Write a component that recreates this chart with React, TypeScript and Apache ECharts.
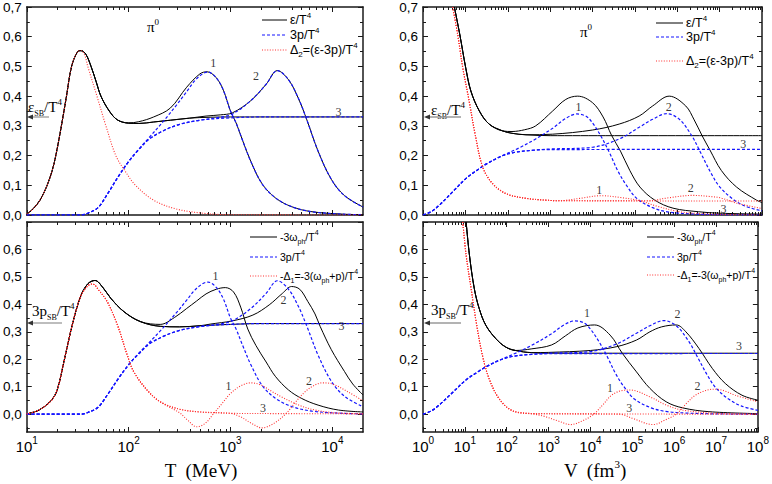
import React, { useEffect, useRef } from "react";
import * as echarts from "echarts";

type P = [number, number];

// ---------- tick labels ----------
const tMajorTicks = [10, 100, 1000, 10000];
const vMajorTicks = [1, 10, 100, 1000, 1e4, 1e5, 1e6, 1e7, 1e8];
const yTickLabelsTop = [0, 0.1, 0.2, 0.3, 0.4, 0.5, 0.6, 0.7];
const yTickLabelsBottom = [0, 0.1, 0.2, 0.3, 0.4, 0.5, 0.6];
const yMinorTop = [0.05, 0.15, 0.25, 0.35, 0.45, 0.55, 0.65];
const yMinorBottom = [-0.05, 0.05, 0.15, 0.25, 0.35, 0.45, 0.55, 0.65];

// ---------- 3p/T^4 vs T (shared by both left panels) ----------
const blueT3: P[] = [[10,0],[34.2,0],[39.81,0.006],[50.12,0.025],[63.1,0.075],[79.43,0.13],[100,0.18],[125.9,0.22],[158.5,0.255],[223.9,0.285],[316.2,0.305],[501.2,0.319],[1000,0.327],[1995,0.33],[20000,0.33]];
const blueT1: P[] = [[10,0],[34.2,0],[39.81,0.006],[50.12,0.025],[63.1,0.075],[79.43,0.13],[100,0.18],[125.9,0.222],[158.5,0.26],[218.8,0.315],[295.1,0.37],[371.5,0.415],[446.7,0.452],[537,0.476],[602.6,0.481],[724.4,0.462],[851.1,0.42],[1000,0.35],[1135,0.31],[1318,0.25],[1585,0.18],[2042,0.105],[2754,0.058],[3981,0.028],[6310,0.011],[12590,0.003],[20000,0.001]];
const blueT2: P[] = [[10,0],[34.2,0],[39.81,0.006],[50.12,0.025],[63.1,0.075],[79.43,0.13],[100,0.18],[125.9,0.22],[158.5,0.255],[223.9,0.285],[316.2,0.305],[501.2,0.319],[794.3,0.329],[1047,0.34],[1585,0.385],[2239,0.44],[2884,0.486],[3715,0.455],[4677,0.39],[5623,0.32],[7244,0.215],[9772,0.12],[13180,0.065],[20000,0.027]];

// ---------- top-left: eps/T^4 and Delta2 vs T ----------
const tlBlackHead: P[] = [[10,0.003],[11.48,0.02],[13.49,0.05],[15.85,0.1],[17.78,0.15],[19.28,0.2],[21.88,0.3],[24.55,0.4],[27.54,0.5],[31.62,0.55],[34.2,0.553],[38.02,0.541],[42.76,0.5],[47.86,0.45],[53.46,0.4],[64.57,0.35],[77.62,0.32]];
const tlBlack3Tail: P[] = [[100,0.309],[125.9,0.308],[176.2,0.313],[257,0.319],[398.1,0.326],[631,0.329],[1000,0.33],[20000,0.33]];
const tlBlack1Tail: P[] = [[100,0.31],[125.9,0.314],[176.2,0.33],[257,0.36],[371.5,0.43],[501.2,0.475],[588.8,0.482],[724.4,0.462],[851.1,0.42],[1000,0.35],[1135,0.31],[1318,0.25],[1585,0.18],[2042,0.105],[2754,0.058],[3981,0.028],[6310,0.011],[12590,0.003],[20000,0.001]];
const tlBlack2Tail: P[] = [[100,0.309],[125.9,0.308],[176.2,0.313],[257,0.319],[398.1,0.326],[575.4,0.333],[794.3,0.337],[1047,0.344],[1585,0.385],[2239,0.44],[2884,0.486],[3715,0.455],[4677,0.39],[5623,0.32],[7244,0.215],[9772,0.12],[13180,0.065],[20000,0.027]];
const tlRed: P[] = [[10,0.003],[11.48,0.02],[13.49,0.05],[15.85,0.1],[17.78,0.15],[19.28,0.2],[21.88,0.3],[24.55,0.4],[27.54,0.5],[31.62,0.55],[34.2,0.553],[37.15,0.537],[39.72,0.5],[48.87,0.4],[59.84,0.3],[74.82,0.2],[91.41,0.15],[117,0.1],[175.8,0.05],[295.1,0.02],[575.4,0.005],[1000,0.001],[20000,0]];

// ---------- bottom-left: -3w/T^4 and -Delta1 vs T ----------
const blBlackHead: P[] = [[10,0.001],[13.18,0.015],[17.38,0.05],[19.95,0.09],[23.44,0.2],[28.18,0.33],[33.88,0.43],[39.81,0.475],[46.77,0.487],[56.23,0.46],[66.83,0.422],[90.16,0.373],[130.9,0.337]];
const blBlack3Tail: P[] = [[204.2,0.32],[316.2,0.318],[501.2,0.322],[1000,0.327],[1995,0.33],[20000,0.33]];
const blBlack1Tail: P[] = [[204.2,0.327],[281.8,0.352],[371.5,0.385],[464.5,0.412],[575.4,0.438],[724.4,0.455],[891.3,0.461],[1072,0.445],[1259,0.39],[1479,0.31],[1778,0.25],[2239,0.19],[2754,0.138],[3715,0.088],[5012,0.057],[7244,0.033],[11480,0.015],[20000,0.008]];
const blBlack2Tail: P[] = [[204.2,0.32],[316.2,0.318],[501.2,0.322],[631,0.328],[1047,0.34],[1660,0.361],[2399,0.398],[3236,0.44],[3981,0.465],[4786,0.455],[5754,0.41],[6761,0.365],[7586,0.32],[9772,0.235],[13180,0.155],[15850,0.11],[20000,0.07]];
const blRedHead: P[] = [[10,0.001],[13.18,0.015],[17.38,0.05],[19.95,0.09],[23.44,0.2],[28.18,0.33],[33.88,0.43],[39.81,0.468],[44.36,0.474],[51.29,0.45],[61.66,0.41],[77.62,0.325],[97.05,0.215],[112.2,0.155],[151.4,0.088],[204.2,0.045]];
const blRed3Tail: P[] = [[316.2,0.018],[501.2,0.008],[1000,0.003],[3162,0.002],[20000,0.001]];
const blRed1Tail: P[] = [[263,0.022],[316.2,0.005],[380.2,-0.022],[464.5,-0.046],[562.3,-0.034],[676.1,0],[831.8,0.04],[1000,0.075],[1259,0.103],[1585,0.114],[1995,0.106],[2570,0.082],[3162,0.063],[4677,0.033],[6761,0.015],[10000,0.006],[20000,0.001]];
const blRed2Tail: P[] = [[316.2,0.018],[501.2,0.008],[1000,0.003],[1259,-0.01],[1585,-0.032],[2042,-0.05],[2630,-0.035],[3467,0],[4266,0.04],[5248,0.077],[6310,0.1],[7943,0.114],[10000,0.11],[14130,0.082],[20000,0.048]];

// ---------- 3p/T^4 vs V (shared by both right panels) ----------
const blueV3: P[] = [[1,0],[1.585,0.012],[2.512,0.035],[5.012,0.078],[10.72,0.125],[21.88,0.157],[31.62,0.172],[66.07,0.196],[134.9,0.21],[398.1,0.218],[1000,0.22],[1e8,0.221]];
const blueV1: P[] = [[1,0],[1.585,0.012],[2.512,0.035],[5.012,0.078],[10.72,0.125],[21.88,0.157],[31.62,0.172],[66.07,0.196],[186.2,0.226],[457.1,0.256],[1148,0.292],[2344,0.325],[4266,0.34],[7079,0.332],[10000,0.31],[15850,0.265],[25120,0.21],[39810,0.148],[63100,0.1],[112200,0.055],[281800,0.023],[631000,0.01],[1995000,0.004],[1e7,0.001],[1e8,0]];
const blueV2: P[] = [[1,0],[1.585,0.012],[2.512,0.035],[5.012,0.078],[10.72,0.125],[21.88,0.157],[31.62,0.172],[66.07,0.196],[134.9,0.21],[398.1,0.218],[1000,0.222],[10000,0.228],[42660,0.256],[125900,0.295],[263000,0.322],[562300,0.341],[1122000,0.322],[2239000,0.265],[3548000,0.21],[6310000,0.14],[1e7,0.095],[1.995e7,0.055],[3.981e7,0.03],[1e8,0.014]];

// ---------- top-right: eps/T^4 and Delta2 vs V ----------
const trBlackHead: P[] = [[5.495,0.7],[7.413,0.606],[10.23,0.494],[13.49,0.417],[21.38,0.35],[36.31,0.306],[75.86,0.283]];
const trBlack3Tail: P[] = [[125.9,0.275],[269.2,0.27],[1000,0.267],[1e8,0.267]];
const trBlack1Tail: P[] = [[125.9,0.281],[251.2,0.287],[457.1,0.3],[1148,0.35],[2344,0.389],[4467,0.4],[10000,0.378],[17780,0.33],[28180,0.268],[45710,0.215],[75860,0.15],[131800,0.094],[295100,0.05],[794300,0.023],[3162000,0.011],[1e7,0.006],[1e8,0.003]];
const trBlack2Tail: P[] = [[125.9,0.275],[269.2,0.27],[1148,0.272],[10000,0.286],[42660,0.306],[125900,0.333],[263000,0.367],[645700,0.4],[1585000,0.367],[2512000,0.32],[3890000,0.266],[5888000,0.219],[1.096e7,0.15],[2.512e7,0.094],[7.413e7,0.05],[1e8,0.042]];
const trRedHead: P[] = [[5.012,0.7],[6.607,0.606],[8.71,0.494],[12.3,0.383],[16.98,0.272],[25.7,0.161],[43.65,0.106],[91.2,0.072],[269.2,0.056],[794.3,0.05],[1585,0.048]];
const trRed3Tail: P[] = [[1e8,0.047]];
const trRed1Tail: P[] = [[5012,0.056],[15850,0.065],[50120,0.058],[131800,0.048],[323600,0.03],[1148000,0.011],[3162000,0.005],[1e7,0.002],[1e8,0]];
const trRed2Tail: P[] = [[199500,0.048],[631000,0.058],[2239000,0.066],[6310000,0.062],[1.096e7,0.057],[2.512e7,0.04],[1e8,0.022]];

// ---------- bottom-right: -3w/T^4 and -Delta1 vs V ----------
const brBlackHead: P[] = [[10.72,0.7],[12.88,0.579],[16.83,0.457],[22.08,0.384],[31.62,0.324],[54.95,0.275],[93.33,0.245],[162.2,0.232]];
const brBlack3Tail: P[] = [[398.1,0.224],[1000,0.222],[1e8,0.222]];
const brBlack1Tail: P[] = [[398.1,0.238],[1175,0.252],[2512,0.285],[5012,0.314],[12590,0.325],[29510,0.288],[57540,0.222],[125900,0.154],[263000,0.094],[645700,0.045],[1585000,0.023],[6761000,0.009],[1e8,0.002]];
const brBlack2Tail: P[] = [[398.1,0.224],[1000,0.225],[10000,0.232],[42660,0.246],[125900,0.27],[263000,0.3],[501200,0.318],[1122000,0.325],[1905000,0.3],[3890000,0.24],[8128000,0.167],[1.66e7,0.112],[4.169e7,0.069],[1e8,0.051]];
const brRedHead: P[] = [[8.913,0.7],[10.72,0.579],[14.13,0.457],[18.62,0.336],[26.3,0.214],[38.02,0.129],[66.07,0.056],[134.9,0.013],[398.1,0.002]];
const brRed3Tail: P[] = [[1e8,0]];
const brRed1Tail: P[] = [[794.3,-0.008],[1698,-0.025],[3388,-0.038],[6310,-0.025],[12020,0],[19950,0.035],[31620,0.068],[50120,0.084],[89130,0.088],[263000,0.063],[645700,0.033],[1585000,0.015],[9772000,0.003],[1e8,0]];
const brRed2Tail: P[] = [[50120,0],[100000,-0.015],[316200,-0.038],[631000,-0.02],[1122000,0],[1995000,0.04],[3162000,0.068],[5623000,0.086],[9772000,0.091],[1.585e7,0.085],[2.884e7,0.069],[1e8,0.045]];

// ---------- curve number labels [x, y, text] ----------
const tlCurveLabels: [number, number, string][] = [[676,0.511,"1"],[1778,0.467,"2"],[11480,0.347,"3"]];
const trCurveLabels: [number, number, string][] = [[4677,0.363,"1"],[631000,0.363,"2"],[3.63e7,0.239,"3"],[14450,0.083,"1"],[2.089e6,0.09,"2"],[1.23e7,0.019,"3"]];
const blCurveLabels: [number, number, string][] = [[714.5,0.505,"1"],[3311,0.416,"2"],[12300,0.321,"3"],[955,0.103,"1"],[5888,0.12,"2"],[2089,0.023,"3"]];
const brCurveLabels: [number, number, string][] = [[8318,0.367,"1"],[1.202e6,0.364,"2"],[3.548e7,0.249,"3"],[29510,0.094,"1"],[3.63e6,0.103,"2"],[85110,0.023,"3"]];

const SANS = "'Liberation Sans', Arial, Helvetica, sans-serif";
const SERIF = "'Liberation Serif', 'Times New Roman', Times, serif";
const AXIS = "#1a1a1a";

function minorLog(lo: number, hi: number, max: number): number[] {
  const out: number[] = [];
  for (let b = lo; b < hi; b *= 10) {
    for (let k = 2; k <= 9; k++) if (b * k < max) out.push(b * k);
  }
  return out;
}

const BLACK = { color: "#000000", width: 1, type: "solid" };
const BLUE = { color: "#1414ff", width: 1.2, type: [3, 2] };
const RED = { color: "#ff3030", width: 1.1, type: [1, 1.6] };

function lineSeries(grid: number, data: P[], ls: any) {
  return {
    type: "line",
    xAxisIndex: grid * 4,
    yAxisIndex: grid * 4,
    data,
    symbol: "none",
    showSymbol: false,
    smooth: 0.35,
    lineStyle: ls,
    itemStyle: { color: ls.color },
    silent: true,
    clip: true,
  };
}

function labelSeries(grid: number, items: [number, number, string][]) {
  return {
    type: "scatter",
    xAxisIndex: grid * 4,
    yAxisIndex: grid * 4,
    data: items.map((d) => ({ name: d[2], value: [d[0], d[1]] })),
    symbol: "circle",
    symbolSize: 2,
    itemStyle: { color: "rgba(0,0,0,0)" },
    label: { show: true, position: "inside", formatter: "{b}", color: "#000", fontFamily: SERIF, fontSize: 12 },
    silent: true,
    z: 5,
  };
}

function buildOption() {
  const tMinor = minorLog(10, 20000, 20000);
  const vMinor = minorLog(1, 1e8, 1e8);
  const panels = [
    { left: 25, top: 5, width: 338, xMin: 10, xMax: 20000, major: tMajorTicks, minor: tMinor, yMin: 0, yLabels: yTickLabelsTop, yMinor: yMinorTop, xLabels: false },
    { left: 423, top: 5, width: 339, xMin: 1, xMax: 1e8, major: vMajorTicks, minor: vMinor, yMin: 0, yLabels: yTickLabelsTop, yMinor: yMinorTop, xLabels: false },
    { left: 25, top: 222, width: 338, xMin: 10, xMax: 20000, major: tMajorTicks, minor: tMinor, yMin: -0.065, yLabels: yTickLabelsBottom, yMinor: yMinorBottom, xLabels: true },
    { left: 423, top: 222, width: 339, xMin: 1, xMax: 1e8, major: vMajorTicks, minor: vMinor, yMin: -0.065, yLabels: yTickLabelsBottom, yMinor: yMinorBottom, xLabels: true },
  ];
  const grid: any[] = [];
  const xAxis: any[] = [];
  const yAxis: any[] = [];
  const lineStyle = { color: AXIS, width: 1.5 };
  const tickStyle = { color: AXIS, width: 1 };
  panels.forEach((p, i) => {
    grid.push({ left: p.left, top: p.top, width: p.width, height: 210, containLabel: false });
    const bx = { gridIndex: i, type: "log", logBase: 10, min: p.xMin, max: p.xMax, splitLine: { show: false }, minorTick: { show: false } };
    const hiddenLabel = { show: false };
    xAxis.push({
      ...bx, position: "bottom",
      axisLine: { show: true, onZero: false, lineStyle },
      axisTick: { show: true, inside: true, length: 5, customValues: p.major, lineStyle: tickStyle },
      axisLabel: p.xLabels
        ? {
            show: true, customValues: p.major, margin: 3, color: "#000", fontFamily: SANS, fontSize: 15, lineHeight: 22,
            formatter: (v: number) => `10{s|${Math.round(Math.log10(v))}}`,
            rich: { s: { fontSize: 10, fontFamily: SANS, verticalAlign: "top", color: "#000" } },
          }
        : hiddenLabel,
    });
    xAxis.push({ ...bx, position: "bottom", axisLine: { show: false, onZero: false }, axisTick: { show: true, inside: true, length: 3, customValues: p.minor, lineStyle: tickStyle }, axisLabel: hiddenLabel });
    xAxis.push({ ...bx, position: "top", axisLine: { show: true, onZero: false, lineStyle }, axisTick: { show: true, inside: true, length: 5, customValues: p.major, lineStyle: tickStyle }, axisLabel: hiddenLabel });
    xAxis.push({ ...bx, position: "top", axisLine: { show: false, onZero: false }, axisTick: { show: true, inside: true, length: 3, customValues: p.minor, lineStyle: tickStyle }, axisLabel: hiddenLabel });

    const by = { gridIndex: i, type: "value", min: p.yMin, max: 0.7, splitLine: { show: false } };
    yAxis.push({
      ...by, position: "left",
      axisLine: { show: true, onZero: false, lineStyle },
      axisTick: { show: true, inside: true, length: 5, customValues: yTickLabelsTop, lineStyle: tickStyle },
      axisLabel: { show: true, customValues: p.yLabels, margin: 5, color: "#000", fontFamily: SANS, fontSize: 13.5, formatter: (v: number) => v.toFixed(1).replace(".", ",") },
    });
    yAxis.push({ ...by, position: "left", axisLine: { show: false, onZero: false }, axisTick: { show: true, inside: true, length: 3, customValues: p.yMinor, lineStyle: tickStyle }, axisLabel: hiddenLabel });
    yAxis.push({ ...by, position: "right", axisLine: { show: true, onZero: false, lineStyle }, axisTick: { show: true, inside: true, length: 5, customValues: yTickLabelsTop, lineStyle: tickStyle }, axisLabel: hiddenLabel });
    yAxis.push({ ...by, position: "right", axisLine: { show: false, onZero: false }, axisTick: { show: true, inside: true, length: 3, customValues: p.yMinor, lineStyle: tickStyle }, axisLabel: hiddenLabel });
  });

  const series: any[] = [
    // top-left
    lineSeries(0, [...tlBlackHead, ...tlBlack1Tail], BLACK),
    lineSeries(0, [...tlBlackHead, ...tlBlack2Tail], BLACK),
    lineSeries(0, [...tlBlackHead, ...tlBlack3Tail], BLACK),
    lineSeries(0, blueT1, BLUE),
    lineSeries(0, blueT2, BLUE),
    lineSeries(0, blueT3, BLUE),
    lineSeries(0, tlRed, RED),
    labelSeries(0, tlCurveLabels),
    // top-right
    lineSeries(1, [...trBlackHead, ...trBlack1Tail], BLACK),
    lineSeries(1, [...trBlackHead, ...trBlack2Tail], BLACK),
    lineSeries(1, [...trBlackHead, ...trBlack3Tail], BLACK),
    lineSeries(1, blueV1, BLUE),
    lineSeries(1, blueV2, BLUE),
    lineSeries(1, blueV3, BLUE),
    lineSeries(1, [...trRedHead, ...trRed1Tail], RED),
    lineSeries(1, [...trRedHead, ...trRed2Tail], RED),
    lineSeries(1, [...trRedHead, ...trRed3Tail], RED),
    labelSeries(1, trCurveLabels),
    // bottom-left
    lineSeries(2, [...blBlackHead, ...blBlack1Tail], BLACK),
    lineSeries(2, [...blBlackHead, ...blBlack2Tail], BLACK),
    lineSeries(2, [...blBlackHead, ...blBlack3Tail], BLACK),
    lineSeries(2, blueT1, BLUE),
    lineSeries(2, blueT2, BLUE),
    lineSeries(2, blueT3, BLUE),
    lineSeries(2, [...blRedHead, ...blRed1Tail], RED),
    lineSeries(2, [...blRedHead, ...blRed2Tail], RED),
    lineSeries(2, [...blRedHead, ...blRed3Tail], RED),
    labelSeries(2, blCurveLabels),
    // bottom-right
    lineSeries(3, [...brBlackHead, ...brBlack1Tail], BLACK),
    lineSeries(3, [...brBlackHead, ...brBlack2Tail], BLACK),
    lineSeries(3, [...brBlackHead, ...brBlack3Tail], BLACK),
    lineSeries(3, blueV1, BLUE),
    lineSeries(3, blueV2, BLUE),
    lineSeries(3, blueV3, BLUE),
    lineSeries(3, [...brRedHead, ...brRed1Tail], RED),
    lineSeries(3, [...brRedHead, ...brRed2Tail], RED),
    lineSeries(3, [...brRedHead, ...brRed3Tail], RED),
    labelSeries(3, brCurveLabels),
  ];

  const richFor = (font: string, supSize: number, subSize: number) => ({
    sup: { fontSize: supSize, fontFamily: font, verticalAlign: "top", fill: "#000" },
    sub: { fontSize: subSize, fontFamily: font, verticalAlign: "bottom", fill: "#000" },
  });
  const text = (x: number, y: number, t: string, font: string, size: number, lh: number, align = "left", supSize = 8, subSize = 8) => ({
    type: "text", x, y, silent: true,
    style: { text: t, fontFamily: font, fontSize: size, lineHeight: lh, fill: "#000", align, verticalAlign: "middle", rich: richFor(font, supSize, subSize) },
  });
  const legend = (x1: number, x2: number, xt: number, ys: number[], labels: string[], size: number, small: number) => {
    const styles = [
      { stroke: "#000", lineWidth: 1 },
      { stroke: "#1414ff", lineWidth: 1.2, lineDash: [3, 2] },
      { stroke: "#ff3030", lineWidth: 1.1, lineDash: [1, 1.6] },
    ];
    const els: any[] = [];
    ys.forEach((y, k) => {
      els.push({ type: "line", silent: true, shape: { x1, y1: y, x2, y2: y }, style: styles[k] });
      els.push(text(xt, y, labels[k], SANS, size, size + 5, "left", small, small));
    });
    return els;
  };
  const arrow = (x1: number, x2: number, y: number) => [
    { type: "line", silent: true, shape: { x1: x1 + 4, y1: y, x2, y2: y }, style: { stroke: "#9a9a9a", lineWidth: 1.3 } },
    { type: "polygon", silent: true, shape: { points: [[x1, y], [x1 + 6, y - 2.5], [x1 + 6, y + 2.5]] }, style: { fill: "#333" } },
  ];
  const topLabels = ["ε/T{sup|4}", "3p/T{sup|4}", "Δ{sub|2}=(ε-3p)/T{sup|4}"];
  const botLabels = ["-3ω{sub|ph}/T{sup|4}", "3p/T{sup|4}", "-Δ{sub|1}=-3(ω{sub|ph}+p)/T{sup|4}"];
  const graphic: any[] = [
    ...legend(262, 287, 290, [20, 35, 50], topLabels, 12.5, 8),
    ...legend(656, 683, 686, [23, 37, 61], topLabels, 12.5, 8),
    ...legend(250, 277, 280, [237, 257, 276], botLabels, 10.5, 7),
    ...legend(647, 674, 677, [237, 257, 275], botLabels, 10.5, 7),
    text(153, 27, "π{sup|0}", SERIF, 15, 20, "center", 9, 8),
    text(586, 32, "π{sup|0}", SERIF, 15, 20, "center", 9, 8),
    text(28, 107, "ε{sub|SB}/T{sup|4}", SERIF, 15, 20, "left", 9, 8),
    text(431, 110, "ε{sub|SB}/T{sup|4}", SERIF, 15, 20, "left", 9, 8),
    text(32, 311, "3p{sub|SB}/T{sup|4}", SERIF, 15, 20, "left", 9, 8),
    text(431, 310, "3p{sub|SB}/T{sup|4}", SERIF, 15, 20, "left", 9, 8),
    ...arrow(27, 49, 117),
    ...arrow(424, 461, 117),
    ...arrow(27, 62, 323),
    ...arrow(424, 461, 323),
    text(201, 470, "T  (MeV)", SERIF, 19, 24, "center", 11, 10),
    text(595, 470, "V  (fm{sup|3})", SERIF, 19, 24, "center", 11, 10),
  ];

  return { animation: false, backgroundColor: "#ffffff", grid, xAxis, yAxis, series, graphic };
}

export default function App() {
  const ref = useRef<HTMLDivElement>(null);
  useEffect(() => {
    if (!ref.current) return;
    const chart = echarts.init(ref.current, undefined, { renderer: "svg" });
    chart.setOption(buildOption() as any);
    return () => chart.dispose();
  }, []);
  return <div ref={ref} style={{ position: "fixed", left: 0, top: 0, width: 772, height: 484, background: "#fff" }} />;
}
